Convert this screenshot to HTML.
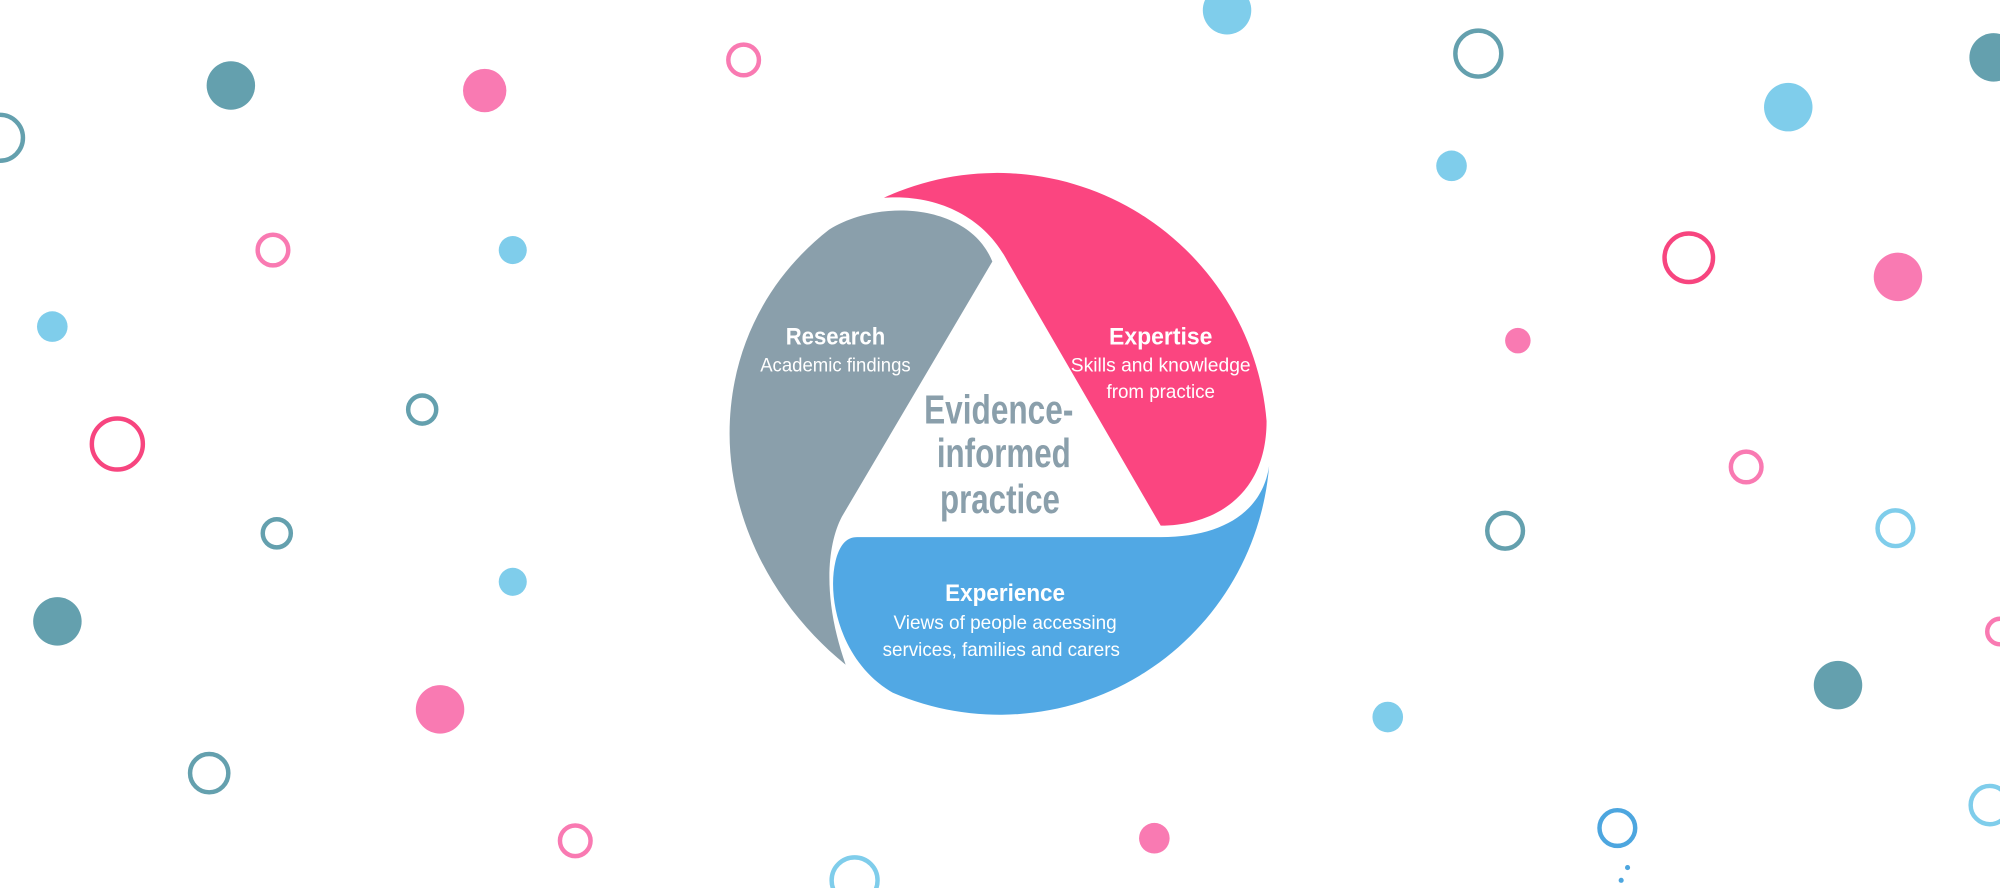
<!DOCTYPE html>
<html><head><meta charset="utf-8"><style>
html,body{margin:0;padding:0;background:#fff;width:2000px;height:888px;overflow:hidden}
svg{display:block}
text{font-family:"Liberation Sans Narrow","Liberation Sans",sans-serif;text-anchor:middle}
.h{font-weight:bold;font-size:19px;fill:#fff}
.s{font-size:15px;fill:#fff}
.c{font-weight:bold;font-size:32px;fill:#8a9fab}
</style></head><body>
<svg width="2000" height="888" viewBox="0 0 1568 696" preserveAspectRatio="none">
<g fill="none" stroke-width="3.5">
<circle cx="0" cy="108" r="18" stroke="#64a0ae"/>
<circle cx="583" cy="47" r="12" stroke="#f97ab2"/>
<circle cx="214" cy="196" r="12" stroke="#f97ab2"/>
<circle cx="92" cy="348" r="20" stroke="#f7457f"/>
<circle cx="331" cy="321" r="11" stroke="#64a0ae"/>
<circle cx="217" cy="418" r="11" stroke="#64a0ae"/>
<circle cx="164" cy="606" r="15" stroke="#64a0ae"/>
<circle cx="451" cy="659" r="12" stroke="#f97ab2"/>
<circle cx="670" cy="690" r="18" stroke="#7fcdeb"/>
<circle cx="1159" cy="42" r="18" stroke="#64a0ae"/>
<circle cx="1324" cy="202" r="19" stroke="#f7457f"/>
<circle cx="1369" cy="366" r="12" stroke="#f97ab2"/>
<circle cx="1180" cy="416" r="14" stroke="#64a0ae"/>
<circle cx="1486" cy="414" r="14" stroke="#7fcdeb"/>
<circle cx="1568" cy="495" r="10" stroke="#f97ab2"/>
<circle cx="1268" cy="649" r="14" stroke="#4da6df"/>
<circle cx="1560" cy="631" r="15" stroke="#7fcdeb"/>
</g>
<g>
<circle cx="181" cy="67" r="19" fill="#64a0ae"/>
<circle cx="380" cy="71" r="17" fill="#f97ab2"/>
<circle cx="402" cy="196" r="11" fill="#7fcdeb"/>
<circle cx="41" cy="256" r="12" fill="#7fcdeb"/>
<circle cx="402" cy="456" r="11" fill="#7fcdeb"/>
<circle cx="45" cy="487" r="19" fill="#64a0ae"/>
<circle cx="345" cy="556" r="19" fill="#f97ab2"/>
<circle cx="962" cy="8" r="19" fill="#7fcdeb"/>
<circle cx="905" cy="657" r="12" fill="#f97ab2"/>
<circle cx="1563" cy="45" r="19" fill="#64a0ae"/>
<circle cx="1402" cy="84" r="19" fill="#7fcdeb"/>
<circle cx="1138" cy="130" r="12" fill="#7fcdeb"/>
<circle cx="1488" cy="217" r="19" fill="#f97ab2"/>
<circle cx="1190" cy="267" r="10" fill="#f97ab2"/>
<circle cx="1441" cy="537" r="19" fill="#64a0ae"/>
<circle cx="1088" cy="562" r="12" fill="#7fcdeb"/>
<circle cx="1276" cy="680" r="2" fill="#4da6df"/>
<circle cx="1271" cy="690" r="2" fill="#4da6df"/>
</g>
<path d="M663,521 C600,470 572,400 572,340 C572,270 605,215 650,180 C690,155 760,160 778,205 L660,405 C648,428 645,470 663,521 Z" fill="#8a9fab"/>
<path d="M693,155 A212,212 0 0 1 993,330 C993,390 950,412 910,412 L790,205 C772,170 735,152 693,155 Z" fill="#fb4580"/>
<path d="M995,365 A212,212 0 0 1 700,543 C660,520 648,470 655,440 C658,428 663,421 672,421 L910,421 C960,421 990,400 995,365 Z" fill="#51a8e4"/>
<text class="h" x="655" y="270" textLength="78" lengthAdjust="spacingAndGlyphs">Research</text>
<text class="s" x="655" y="291" textLength="118" lengthAdjust="spacingAndGlyphs">Academic findings</text>
<text class="h" x="910" y="270" textLength="81" lengthAdjust="spacingAndGlyphs">Expertise</text>
<text class="s" x="910" y="291" textLength="141" lengthAdjust="spacingAndGlyphs">Skills and knowledge</text>
<text class="s" x="910" y="312" textLength="85" lengthAdjust="spacingAndGlyphs">from practice</text>
<text class="c" x="783" y="332" textLength="117" lengthAdjust="spacingAndGlyphs">Evidence-</text>
<text class="c" x="787" y="366" textLength="105" lengthAdjust="spacingAndGlyphs">informed</text>
<text class="c" x="784" y="402" textLength="94" lengthAdjust="spacingAndGlyphs">practice</text>
<text class="h" x="788" y="471" textLength="94" lengthAdjust="spacingAndGlyphs">Experience</text>
<text class="s" x="788" y="493" textLength="175" lengthAdjust="spacingAndGlyphs">Views of people accessing</text>
<text class="s" x="785" y="514" textLength="186" lengthAdjust="spacingAndGlyphs">services, families and carers</text>
</svg>
</body></html>
